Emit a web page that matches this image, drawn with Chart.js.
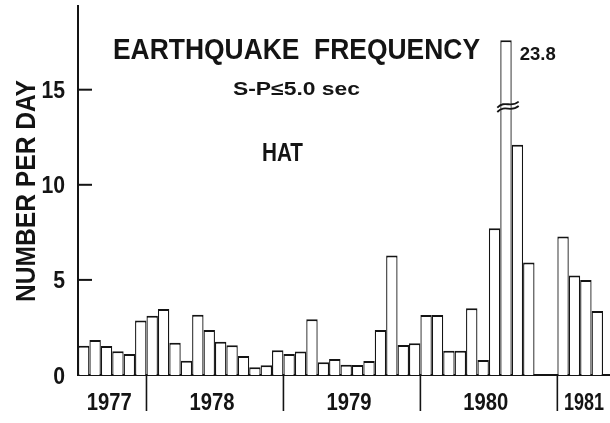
<!DOCTYPE html>
<html><head><meta charset="utf-8">
<script src="https://cdn.jsdelivr.net/npm/chart.js@4/dist/chart.umd.min.js"></script>
<style>html,body{margin:0;padding:0;background:#fff;}canvas{display:block;}</style>
</head><body>
<canvas id="c" width="610" height="423"></canvas>
<script>
// ---- data ----
const months = [
  "1977-07","1977-08","1977-09","1977-10","1977-11","1977-12",
  "1978-01","1978-02","1978-03","1978-04","1978-05","1978-06","1978-07","1978-08","1978-09","1978-10","1978-11","1978-12",
  "1979-01","1979-02","1979-03","1979-04","1979-05","1979-06","1979-07","1979-08","1979-09","1979-10","1979-11","1979-12",
  "1980-01","1980-02","1980-03","1980-04","1980-05","1980-06","1980-07","1980-08","1980-09","1980-10","1980-11","1980-12",
  "1981-01","1981-02","1981-03","1981-04"
];
const perDay = [
  1.54, 1.84, 1.53, 1.25, 1.11, 2.86,
  3.11, 3.47, 1.70, 0.75, 3.17, 2.37, 1.75, 1.56, 1.00, 0.41, 0.51, 1.30,
  1.11, 1.23, 2.93, 0.67, 0.84, 0.54, 0.53, 0.74, 2.37, 6.28, 1.58, 1.67,
  3.16, 3.16, 1.28, 1.28, 3.51, 0.79, 7.72, 23.8, 12.1, 5.91, null, null,
  7.28, 5.23, 5.00, 3.37
];
const yTicks = [0, 5, 10, 15];
const yMax = 19.4;
const breakCap = 17.6;     // drawn height of the off-scale bar
const breakAt = 14.1;      // where the axis-break mark sits on that bar
const titleText = "EARTHQUAKE  FREQUENCY";
const subText = "S-P\u22645.0 sec";
const stationText = "HAT";
const yTitleText = "NUMBER PER DAY";

const drawn = perDay.map(v => v == null ? null : Math.min(v, breakCap));
const years = [...new Set(months.map(m => m.slice(0, 4)))];

const INK = "#141414";
const FONT = '"Liberation Sans", Arial, sans-serif';

function fitText(ctx, s, x, y, px, width, align, weight, rot) {
  ctx.save();
  ctx.font = (weight || "bold") + " " + px + "px " + FONT;
  const w = ctx.measureText(s).width;
  const sx = width ? width / w : 1;
  ctx.translate(x, y);
  if (rot) ctx.rotate(rot);
  ctx.scale(sx, 1);
  ctx.fillStyle = INK;
  ctx.textAlign = align || "left";
  ctx.textBaseline = "alphabetic";
  ctx.fillText(s, 0, px * 0.358);
  ctx.restore();
}

const decor = {
  id: "decor",
  afterDraw(chart) {
    const ctx = chart.ctx, xs = chart.scales.x, ys = chart.scales.y, a = chart.chartArea;
    const cw = xs.getPixelForValue(1) - xs.getPixelForValue(0);
    const leftEdge = i => xs.getPixelForValue(i) - cw / 2;
    ctx.save();
    ctx.strokeStyle = INK;
    // baseline extension
    ctx.lineWidth = 2;
    ctx.beginPath(); ctx.moveTo(a.right - 1, a.bottom); ctx.lineTo(chart.width, a.bottom); ctx.stroke();
    // y ticks (inward) and labels
    yTicks.forEach(v => {
      const py = ys.getPixelForValue(v);
      if (v > 0) {
        ctx.lineWidth = 2;
        ctx.beginPath(); ctx.moveTo(a.left, py); ctx.lineTo(a.left + 14, py); ctx.stroke();
      }
      const s = String(v);
      fitText(ctx, s, a.left - 13, py, 24, s.length * 11.8, "right");
    });
    // year separators and labels
    years.forEach((yr, k) => {
      const first = months.findIndex(m => m.startsWith(yr));
      let last = -1; months.forEach((m, i) => { if (m.startsWith(yr)) last = i; });
      const x0 = leftEdge(first), x1 = leftEdge(last) + cw;
      if (k > 0) {
        ctx.lineWidth = 1.6;
        ctx.beginPath(); ctx.moveTo(x0, a.bottom); ctx.lineTo(x0, a.bottom + 36); ctx.stroke();
      }
      if (k === years.length - 1) fitText(ctx, yr, x1 + 1, a.bottom + 26, 24, 40, "right");
      else fitText(ctx, yr, (x0 + x1) / 2 - 3, a.bottom + 26, 24, 45, "center");
    });
    // axis break on the off-scale bar
    perDay.forEach((v, i) => {
      if (v != null && v > breakCap) {
        const bl = leftEdge(i), br = bl + cw;
        const by = ys.getPixelForValue(breakAt);
        const top = ys.getPixelForValue(breakCap);
        const wave = (dy) => {
          const x0 = bl - 3, x3 = br + 7;
          ctx.moveTo(x0, by + 3 + dy);
          ctx.bezierCurveTo(x0 + 8, by - 5 + dy, x0 + 13, by + 4 + dy, x3, by - 3 + dy);
        };
        ctx.fillStyle = "#fff";
        ctx.fillRect(bl + 1.5, by - 4, cw - 3, 8);
        ctx.lineWidth = 1.8;
        ctx.beginPath(); wave(-2.2); ctx.stroke();
        ctx.beginPath(); wave(2.2); ctx.stroke();
        fitText(ctx, String(v), br + 8, top + 13, 19, 36, "left");
      }
    });
    // titles
    fitText(ctx, titleText, 113, 48.5, 29, 367, "left");
    fitText(ctx, subText, 233, 88.5, 18, 127, "left");
    fitText(ctx, stationText, 262, 152, 25, 41, "left");
    fitText(ctx, yTitleText, 25.5, 191, 27, 222, "center", "bold", -Math.PI / 2);
    ctx.restore();
  }
};

new Chart(document.getElementById("c"), {
  type: "bar",
  data: {
    labels: months,
    datasets: [{
      data: drawn,
      backgroundColor: "#ffffff",
      borderColor: INK,
      borderWidth: { top: 2, left: 1.3, right: 1.3, bottom: 0 },
      borderSkipped: false,
      inflateAmount: 0,
      barPercentage: 1,
      categoryPercentage: 1
    }]
  },
  options: {
    responsive: false,
    animation: false,
    devicePixelRatio: 1,
    layout: { padding: { top: 6, right: 7, left: 0, bottom: 0 } },
    plugins: { legend: { display: false }, tooltip: { enabled: false }, title: { display: false } },
    scales: {
      x: {
        type: "category",
        grid: { display: false },
        border: { display: true, color: INK, width: 2 },
        ticks: { display: false },
        afterFit(s) { s.height = 48; }
      },
      y: {
        type: "linear",
        min: 0, max: yMax,
        grid: { display: false },
        border: { display: true, color: INK, width: 2 },
        ticks: { display: false, stepSize: 5, includeBounds: false },
        afterFit(s) { s.width = 78; }
      }
    }
  },
  plugins: [decor]
});
</script>
</body></html>
